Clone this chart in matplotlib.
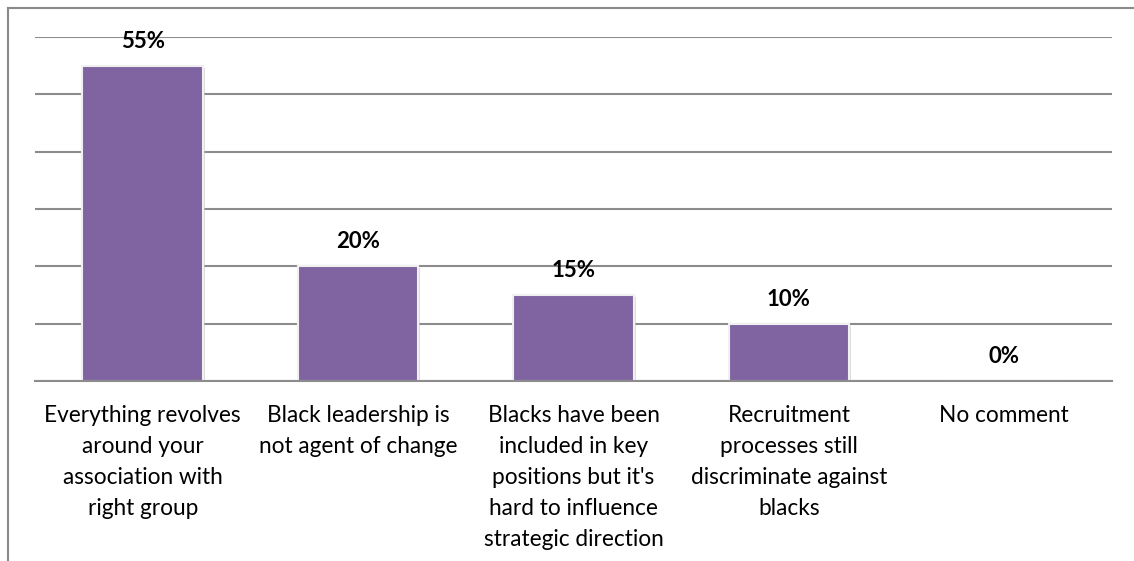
import matplotlib
matplotlib.use("Agg")
import matplotlib.pyplot as plt
from matplotlib.lines import Line2D
import matplotlib.patheffects as pe

categories = ["Everything revolves\naround your\nassociation with\nright group",
              "Black leadership is\nnot agent of change",
              "Blacks have been\nincluded in key\npositions but it's\nhard to influence\nstrategic direction",
              "Recruitment\nprocesses still\ndiscriminate against\nblacks",
              "No comment"]
values = [55, 20, 15, 10, 0]
value_labels = ["55%", "20%", "15%", "10%", "0%"]

plt.rcParams["font.family"] = ["Lato", "DejaVu Sans"]

fig = plt.figure(figsize=(11.34, 5.61), dpi=100)
ax = fig.add_axes([35 / 1134, 1 - 381 / 561, (1112 - 35) / 1134, (381 - 37) / 561])

x = range(len(values))
bars = ax.bar(x, values, width=0.56, color="#8064A2", zorder=3,
              edgecolor="#f0f0f0", linewidth=1.5)
for b in bars:
    b.set_path_effects([pe.SimplePatchShadow(offset=(1.5, -1.5), shadow_rgbFace="#c8c8c8", alpha=0.6),
                        pe.Normal()])

ax.set_xlim(-0.5, len(values) - 0.5)
ax.set_ylim(0, 60)
ax.set_yticks(range(0, 61, 10))
ax.yaxis.grid(True, color="#8c8c8c", linewidth=1.5, zorder=0)
ax.set_axisbelow(True)
ax.tick_params(left=False, labelleft=False, bottom=False, labelbottom=False)
for s in ["top", "right", "left"]:
    ax.spines[s].set_visible(False)
ax.spines["bottom"].set_color("#8c8c8c")
ax.spines["bottom"].set_linewidth(1.5)
ax.spines["bottom"].set_zorder(4)

for xi, v, lab in zip(x, values, value_labels):
    ax.annotate(lab, (xi, v), xytext=(0, 10), textcoords="offset points",
                ha="center", va="bottom", fontsize=16, fontweight="bold", zorder=5)

for xi, cat in zip(x, categories):
    ax.annotate(cat, (xi, 0), xytext=(0, -17), textcoords="offset points",
                ha="center", va="top", fontsize=16.3, linespacing=1.6)

# outer chart frame
fig.add_artist(Line2D([8 / 1134, 1.0], [1 - 8 / 561] * 2, color="#8a8a8a", linewidth=1.5))
fig.add_artist(Line2D([8 / 1134] * 2, [0, 1 - 8 / 561], color="#8a8a8a", linewidth=1.5))

fig.savefig("out.png", dpi=100)
